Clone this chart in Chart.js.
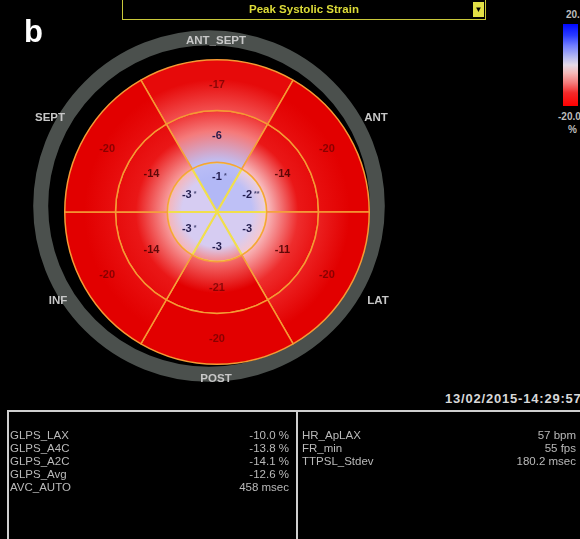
<!DOCTYPE html>
<html>
<head>
<meta charset="utf-8">
<script src="https://cdn.jsdelivr.net/npm/chart.js@4.4.0/dist/chart.umd.min.js"></script>
<style>
  html, body { margin: 0; padding: 0; background: #000; width: 580px; height: 539px; overflow: hidden;
    font-family: "Liberation Sans", Arial, sans-serif; }
  .abs { position: absolute; white-space: nowrap; }
  #chart { position: absolute; left: 0; top: 0; }
  #panel-letter { left: 24px; top: 14px; color: #fff; font-weight: bold; font-size: 31px; }
  #mode-box { left: 122px; top: -2px; width: 364px; height: 22px; border: 1.5px solid #c9c83a; box-sizing: border-box; }
  #mode-box span.t { position: absolute; left: 0; right: 0; top: 4px; text-align: center; color: #dcdb38;
    font-weight: bold; font-size: 11.5px; }
  #mode-box span.d { position: absolute; right: 1px; top: 3px; width: 11px; height: 15px; background: #e2e046;
    color: #000; font-size: 8px; line-height: 15px; text-align: center; }
  .wall { color: #c8c8c8; font-weight: bold; font-size: 11.5px; transform: translate(-50%, -50%); }
  #scale-bar { left: 563px; top: 24px; width: 15px; height: 82px;
    background: linear-gradient(to bottom, #0008ff 0%, #2a3cff 14%, #6f7cff 26%, #b4b8f2 40%, #e6dbe8 50%,
      #f6b8b8 60%, #f47a7a 72%, #f42a2a 84%, #ff0000 100%); }
  .scale-lbl { color: #bdbdbd; font-weight: bold; font-size: 10px; }
  #stamp { left: 445px; top: 391px; color: #d8d8d8; font-weight: bold; font-size: 13px; letter-spacing: 0.8px; }
  #info { left: 7px; top: 410px; width: 600px; height: 140px; border-top: 2px solid #cfcfcf; border-left: 2px solid #cfcfcf; }
  #info-split { left: 296px; top: 410px; width: 0; height: 140px; border-left: 2px solid #cfcfcf; }
  .rows { color: #b9b9b9; font-size: 11.5px; line-height: 13px; }
  .rows div { position: relative; height: 13px; }
  .rows b { position: absolute; right: 0; font-weight: normal; }
</style>
</head>
<body>
<canvas id="chart" width="434" height="424"></canvas>

<div id="panel-letter" class="abs">b</div>
<div id="mode-box" class="abs"><span class="t" id="mode-title"></span><span class="d">&#9660;</span></div>

<div id="wall-0" class="abs wall" style="left:216px;top:40px"></div>
<div id="wall-1" class="abs wall" style="left:376px;top:117px"></div>
<div id="wall-2" class="abs wall" style="left:378px;top:300px"></div>
<div id="wall-3" class="abs wall" style="left:216px;top:378px"></div>
<div id="wall-4" class="abs wall" style="left:58px;top:300px"></div>
<div id="wall-5" class="abs wall" style="left:50px;top:117px"></div>

<div id="scale-bar" class="abs"></div>
<div id="scale-top" class="abs scale-lbl" style="left:566px;top:9px"></div>
<div id="scale-bottom" class="abs scale-lbl" style="left:558px;top:111px"></div>
<div id="scale-unit" class="abs scale-lbl" style="left:568px;top:124px"></div>

<div id="stamp" class="abs"></div>

<div id="info" class="abs"></div>
<div id="info-split" class="abs"></div>
<div id="rows-left" class="abs rows" style="left:10px;top:429px;width:279px"></div>
<div id="rows-right" class="abs rows" style="left:302px;top:429px;width:274px"></div>

<script>
// wall names, clockwise from the top segment
const walls = ['ANT_SEPT', 'ANT', 'LAT', 'POST', 'INF', 'SEPT'];

// peak systolic strain (%) per segment, same order as walls
const basalStrain = [-17, -20, -20, -20, -20, -20];
const midStrain = [-6, -14, -11, -21, -14, -14];
const apicalStrain = [-1, -2, -3, -3, -3, -3];
const apicalMarks = ['*', '**', '', '', '*', '*'];

// every segment covers the same angle
const segmentSpan = [1, 1, 1, 1, 1, 1];

const scaleTicks = ['20.0', '-20.0'];
const scaleUnit = '%';
const modeTitle = 'Peak Systolic Strain';
const timeStamp = '13/02/2015-14:29:57';

const globalNames = ['GLPS_LAX', 'GLPS_A4C', 'GLPS_A2C', 'GLPS_Avg', 'AVC_AUTO'];
const globalValues = ['-10.0 %', '-13.8 %', '-14.1 %', '-12.6 %', '458 msec'];
const acqNames = ['HR_ApLAX', 'FR_min', 'TTPSL_Stdev'];
const acqValues = ['57 bpm', '55 fps', '180.2 msec'];

// text around the map
document.getElementById('mode-title').textContent = modeTitle;
walls.forEach((w, i) => { document.getElementById('wall-' + i).textContent = w; });
document.getElementById('scale-top').textContent = scaleTicks[0];
document.getElementById('scale-bottom').textContent = scaleTicks[1];
document.getElementById('scale-unit').textContent = scaleUnit;
document.getElementById('stamp').textContent = timeStamp;

function fillRows(id, names, values) {
  const box = document.getElementById(id);
  names.forEach((n, i) => {
    const row = document.createElement('div');
    row.textContent = n;
    const v = document.createElement('b');
    v.textContent = values[i];
    row.appendChild(v);
    box.appendChild(row);
  });
}
fillRows('rows-left', globalNames, globalValues);
fillRows('rows-right', acqNames, acqValues);

// strain -> colour (red for shortening, blue for lengthening)
const colourStops = [
  [-20, 226, 0, 0],
  [-15, 232, 16, 16],
  [-11, 238, 45, 45],
  [-8, 242, 80, 80],
  [-6, 245, 122, 122],
  [-5, 248, 165, 165],
  [-4, 248, 208, 214],
  [-3, 214, 204, 242],
  [-2, 190, 192, 246],
  [0, 165, 175, 246],
  [10, 80, 100, 250],
  [20, 0, 0, 255]
];

function strainColour(v) {
  if (v <= colourStops[0][0]) return rgb(colourStops[0]);
  for (let i = 1; i < colourStops.length; i++) {
    const b = colourStops[i];
    if (v <= b[0]) {
      const a = colourStops[i - 1];
      const t = (v - a[0]) / (b[0] - a[0]);
      return rgb([0, a[1] + (b[1] - a[1]) * t, a[2] + (b[2] - a[2]) * t, a[3] + (b[3] - a[3]) * t]);
    }
  }
  return rgb(colourStops[colourStops.length - 1]);
}
function rgb(s) {
  return 'rgb(' + Math.round(s[1]) + ',' + Math.round(s[2]) + ',' + Math.round(s[3]) + ')';
}

// ring extents as a fraction of the outer radius
const ringEdges = { apical: [0, 50 / 153], mid: [50 / 153, 102 / 153], basal: [102 / 153, 1] };

// radial gradient per segment so neighbouring rings blend into each other
function ringFill(ring, own, inner, outer) {
  return (ctx) => {
    const i = ctx.dataIndex;
    const area = ctx.chart.chartArea;
    if (!area) return strainColour(own[i]);
    const cx = (area.left + area.right) / 2;
    const cy = (area.top + area.bottom) / 2;
    const R = Math.min(area.right - area.left, area.bottom - area.top) / 2;
    const e = ringEdges[ring];
    const g = ctx.chart.ctx.createRadialGradient(cx, cy, e[0] * R, cx, cy, e[1] * R);
    const v = own[i];
    if (inner) {
      g.addColorStop(0, strainColour(0.8 * inner[i] + 0.2 * v));
      g.addColorStop(0.6, strainColour(v));
    } else {
      g.addColorStop(0, strainColour(v));
      g.addColorStop(0.7, strainColour(v));
    }
    if (outer) g.addColorStop(1, strainColour(inner ? 0.6 * v + 0.4 * outer[i] : 0.85 * v + 0.15 * outer[i]));
    else g.addColorStop(1, strainColour(v));
    return g;
  };
}

// grey rim behind the map
const rimPlugin = {
  id: 'rim',
  beforeDatasetsDraw(chart) {
    const a = chart.chartArea;
    const cx = (a.left + a.right) / 2, cy = (a.top + a.bottom) / 2;
    const R = Math.min(a.right - a.left, a.bottom - a.top) / 2;
    const c = chart.ctx;
    c.save();
    c.beginPath();
    c.arc(cx - 8, cy - 6, R * 1.1, 0, Math.PI * 2);
    c.lineWidth = 15;
    c.strokeStyle = '#4b504d';
    c.stroke();
    c.restore();
  }
};

// strain value written in each segment
const valuePlugin = {
  id: 'segmentValues',
  afterDatasetsDraw(chart) {
    const c = chart.ctx;
    c.save();
    c.textAlign = 'center';
    c.textBaseline = 'middle';
    chart.data.datasets.forEach((ds, di) => {
      chart.getDatasetMeta(di).data.forEach((arc, i) => {
        const p = arc.getProps(['x', 'y', 'startAngle', 'endAngle', 'innerRadius', 'outerRadius'], true);
        const ang = (p.startAngle + p.endAngle) / 2;
        const r = p.innerRadius > 0 ? (p.innerRadius + p.outerRadius) / 2 : p.outerRadius * 0.7;
        const x = p.x + Math.cos(ang) * r;
        const y = p.y + Math.sin(ang) * r;
        const txt = String(ds.strain[i]);
        c.font = 'bold 11px "Liberation Sans", Arial, sans-serif';
        c.fillStyle = ds.textColour[i];
        c.fillText(txt, x, y);
        if (ds.marks && ds.marks[i]) {
          const w = c.measureText(txt).width;
          c.font = 'bold 7px "Liberation Sans", Arial, sans-serif';
          c.fillStyle = 'rgba(40,40,90,0.8)';
          c.textAlign = 'left';
          c.fillText(ds.marks[i], x + w / 2 + 2, y - 1);
          c.textAlign = 'center';
        }
      });
    });
    c.restore();
  }
};

function textColours(values) {
  return values.map(v => v <= -17 ? 'rgba(100,0,0,0.7)' : v <= -10 ? 'rgba(70,0,0,0.85)' : 'rgba(25,20,70,0.95)');
}

new Chart(document.getElementById('chart'), {
  type: 'doughnut',
  data: {
    labels: walls,
    datasets: [
      {
        label: 'Basal',
        data: segmentSpan,
        strain: basalStrain,
        textColour: textColours(basalStrain),
        weight: 51,
        backgroundColor: ringFill('basal', basalStrain, midStrain, null),
        borderColor: '#f59a34',
        borderWidth: 1.5
      },
      {
        label: 'Mid',
        data: segmentSpan,
        strain: midStrain,
        textColour: textColours(midStrain),
        weight: 52,
        backgroundColor: ringFill('mid', midStrain, apicalStrain, basalStrain),
        borderColor: '#f5a23a',
        borderWidth: 1.5
      },
      {
        label: 'Apical',
        data: segmentSpan,
        strain: apicalStrain,
        marks: apicalMarks,
        textColour: textColours(apicalStrain),
        weight: 50,
        backgroundColor: ringFill('apical', apicalStrain, null, midStrain),
        borderColor: '#f1df4c',
        borderWidth: 2
      }
    ]
  },
  options: {
    responsive: false,
    animation: false,
    events: [],
    cutout: 0,
    rotation: -30,
    layout: { padding: { left: 64, right: 64, top: 59, bottom: 59 } },
    plugins: {
      legend: { display: false },
      tooltip: { enabled: false }
    }
  },
  plugins: [rimPlugin, valuePlugin]
});
</script>
</body>
</html>
